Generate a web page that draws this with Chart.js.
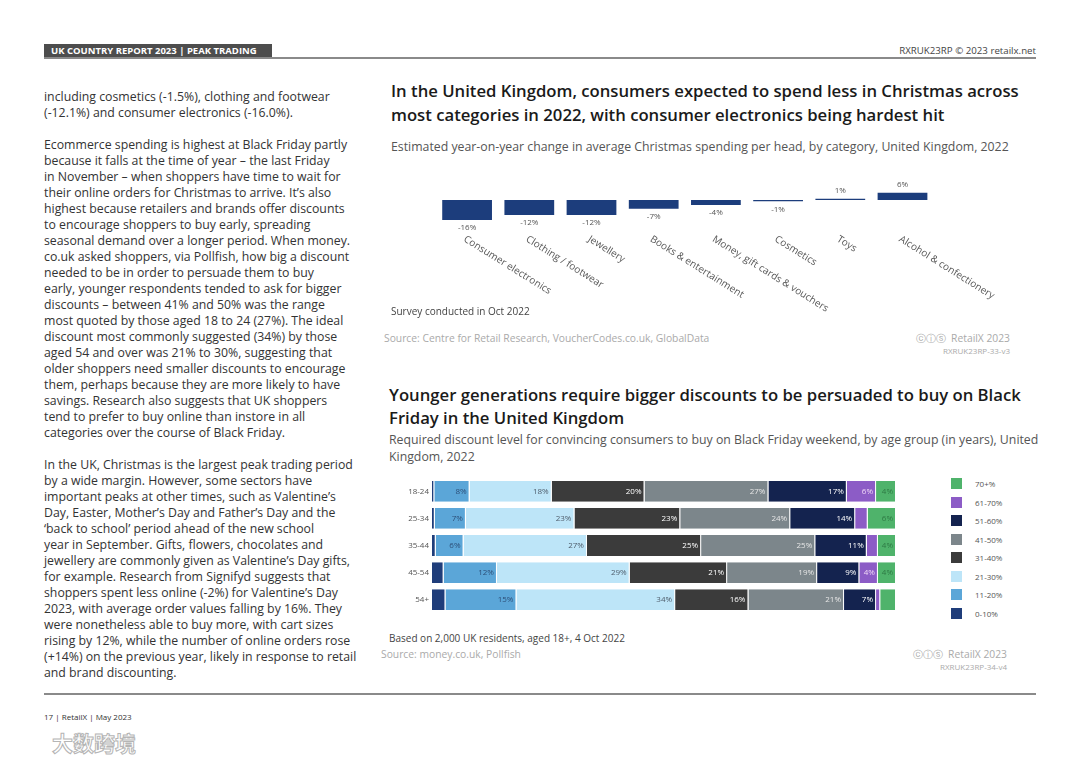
<!DOCTYPE html>
<html>
<head>
<meta charset="utf-8">
<script src="https://cdn.jsdelivr.net/npm/chart.js@4.4.0/dist/chart.umd.min.js"></script>
<style>
    body { margin: 0; width: 1080px; height: 763px; background: #fff; position: relative; overflow: hidden; font-family: "Open Sans", sans-serif; }
    .abs { position: absolute; white-space: nowrap; }
    .head-box { left: 44px; top: 44px; width: 228px; height: 14px; background: #4d4d4d; color: #fff; font-weight: 700; font-size: 9.5px; line-height: 14px; padding-left: 7px; box-sizing: border-box; }
    .rule { background: #8a8a8a; height: 1.5px; }
    .body-text { left: 44px; top: 89px; font-size: 12.3px; line-height: 16px; color: #333; }
    .body-text p { margin: 0 0 16px 0; }
    .title { font-size: 16.7px; font-weight: 600; color: #1a1a1a; }
    .sub { font-size: 12.3px; color: #555; }
    .note { font-size: 10px; color: #444; line-height: 14px; }
    .src { font-size: 10.3px; color: #aaa; line-height: 14px; }
    .code { font-size: 8px; color: #aaa; line-height: 12px; text-align: right; }
    .legend { left: 951px; top: 478px; font-size: 8px; color: #555; }
    .legend div { height: 18.5px; display: flex; align-items: flex-start; }
    .legend span.sw { width: 11px; height: 11px; margin-right: 13px; display: inline-block; }
    .legend span.tx { line-height: 11px; }
    canvas { position: absolute; }
</style>
</head>
<body>
<div class="abs head-box">UK COUNTRY REPORT 2023 | PEAK TRADING</div>
<div class="abs rule" style="left:44px;top:57px;width:992px;"></div>
<div class="abs" style="right:44px;top:44px;font-size:9.7px;line-height:14px;color:#444;">RXRUK23RP © 2023 retailx.net</div>

<div class="abs body-text">
<p>including cosmetics (-1.5%), clothing and footwear<br>(-12.1%) and consumer electronics (-16.0%).</p>
<p>Ecommerce spending is highest at Black Friday partly<br>because it falls at the time of year – the last Friday<br>in November – when shoppers have time to wait for<br>their online orders for Christmas to arrive. It’s also<br>highest because retailers and brands offer discounts<br>to encourage shoppers to buy early, spreading<br>seasonal demand over a longer period. When money.<br>co.uk asked shoppers, via Pollfish, how big a discount<br>needed to be in order to persuade them to buy<br>early, younger respondents tended to ask for bigger<br>discounts – between 41% and 50% was the range<br>most quoted by those aged 18 to 24 (27%). The ideal<br>discount most commonly suggested (34%) by those<br>aged 54 and over was 21% to 30%, suggesting that<br>older shoppers need smaller discounts to encourage<br>them, perhaps because they are more likely to have<br>savings. Research also suggests that UK shoppers<br>tend to prefer to buy online than instore in all<br>categories over the course of Black Friday.</p>
<p>In the UK, Christmas is the largest peak trading period<br>by a wide margin. However, some sectors have<br>important peaks at other times, such as Valentine’s<br>Day, Easter, Mother’s Day and Father’s Day and the<br>‘back to school’ period ahead of the new school<br>year in September. Gifts, flowers, chocolates and<br>jewellery are commonly given as Valentine’s Day gifts,<br>for example. Research from Signifyd suggests that<br>shoppers spent less online (-2%) for Valentine’s Day<br>2023, with average order values falling by 16%. They<br>were nonetheless able to buy more, with cart sizes<br>rising by 12%, while the number of online orders rose<br>(+14%) on the previous year, likely in response to retail<br>and brand discounting.</p>
</div>

<div class="abs title" style="left:391px;top:79px;line-height:24px;">In the United Kingdom, consumers expected to spend less in Christmas across<br>most categories in 2022, with consumer electronics being hardest hit</div>
<div class="abs sub" style="left:391px;top:139px;line-height:16px;">Estimated year-on-year change in average Christmas spending per head, by category, United Kingdom, 2022</div>
<canvas id="spendChart" width="660" height="150" style="left:380px;top:170px;"></canvas>
<div class="abs note" style="left:391px;top:304px;">Survey conducted in Oct 2022</div>
<div class="abs src" style="left:384px;top:331px;">Source: Centre for Retail Research, VoucherCodes.co.uk, GlobalData</div>
<div class="abs src" style="right:70px;top:331px;">ⓒⓘⓢ&nbsp; RetailX 2023</div>
<div class="abs code" style="right:70px;top:345px;">RXRUK23RP-33-v3</div>

<div class="abs title" style="left:389px;top:382.5px;line-height:23px;">Younger generations require bigger discounts to be persuaded to buy on Black<br>Friday in the United Kingdom</div>
<div class="abs sub" style="left:389px;top:430.5px;line-height:17px;">Required discount level for convincing consumers to buy on Black Friday weekend, by age group (in years), United<br>Kingdom, 2022</div>
<canvas id="discountChart" width="514" height="151" style="left:382px;top:470px;"></canvas>
<div class="abs legend" id="discountLegend"></div>
<div class="abs note" style="left:389px;top:631px;">Based on 2,000 UK residents, aged 18+, 4 Oct 2022</div>
<div class="abs src" style="left:381px;top:647px;">Source: money.co.uk, Pollfish</div>
<div class="abs src" style="right:73px;top:647px;">ⓒⓘⓢ&nbsp; RetailX 2023</div>
<div class="abs code" style="right:73px;top:661px;">RXRUK23RP-34-v4</div>

<div class="abs rule" style="left:44px;top:693px;width:992px;"></div>
<div class="abs" style="left:44px;top:711px;font-size:8px;line-height:12px;color:#333;">17 | RetailX | May 2023</div>
<div class="abs" style="left:52px;top:728px;font-size:21px;line-height:28px;font-weight:700;font-family:'Noto Sans CJK SC',sans-serif;color:#fff;-webkit-text-stroke:1px #b5b5b5;">大数跨境</div>

<script>
const spendCategories = ["Consumer electronics", "Clothing / footwear", "Jewellery", "Books & entertainment", "Money, gift cards & vouchers", "Cosmetics", "Toys", "Alcohol & confectionery"];
const spendChange = [-16, -12, -12, -7, -4, -1, 1, 6];

const ageGroups = ["18-24", "25-34", "35-44", "45-54", "54+"];
const discountBands = ["0-10%", "11-20%", "21-30%", "31-40%", "41-50%", "51-60%", "61-70%", "70+%"];
const share0to10 = [0.5, 0.6, 0.8, 2.5, 2.9];
const share11to20 = [7.6, 6.7, 6.0, 11.5, 15.3];
const share21to30 = [17.7, 23.4, 26.6, 28.6, 34.2];
const share31to40 = [20.0, 22.8, 24.6, 21.0, 15.8];
const share41to50 = [26.7, 23.7, 24.6, 19.4, 20.6];
const share51to60 = [16.9, 14.0, 11.1, 9.1, 6.9];
const share61to70 = [6.3, 2.7, 2.4, 4.0, 0.9];
const share70plus = [4.3, 6.1, 3.9, 3.9, 3.4];

const bandColors = ["#1f3d7a", "#5ba6d8", "#bde5f8", "#3b3b3b", "#7c868b", "#14234f", "#8c5cc6", "#4fb36b"];
const bandLabelColors = ["#ffffff", "#2d4f78", "#4f5d6b", "#ffffff", "#e6e6e6", "#ffffff", "#f0d8f6", "#2e7a44"];

(() => {
    const navy = "#1c3d7c";
    const tickGrey = "#555";
    const font = "'Open Sans', sans-serif";

    // value + rotated category labels for the spending chart
    const spendLabels = {
        id: "spendLabels",
        afterDatasetsDraw(chart) {
            const { ctx, chartArea } = chart;
            const meta = chart.getDatasetMeta(0);
            ctx.save();
            ctx.fillStyle = tickGrey;
            meta.data.forEach((bar, i) => {
                const value = spendChange[i];
                ctx.font = `8px ${font}`;
                ctx.textAlign = "center";
                ctx.textBaseline = "middle";
                ctx.fillText(`${value}%`, bar.x, value < 0 ? bar.y + 8 : bar.y - 8);

                ctx.save();
                ctx.translate(bar.x, chartArea.bottom + 14);
                ctx.rotate((32 * Math.PI) / 180);
                ctx.font = `10px ${font}`;
                ctx.textAlign = "left";
                ctx.textBaseline = "top";
                ctx.fillText(spendCategories[i], 0, 0);
                ctx.restore();
            });
            ctx.restore();
        },
    };

    new Chart(document.getElementById("spendChart"), {
        type: "bar",
        data: {
            labels: spendCategories,
            datasets: [
                {
                    data: spendChange,
                    backgroundColor: navy,
                    borderWidth: 0,
                    barPercentage: 0.8,
                    categoryPercentage: 1,
                },
            ],
        },
        options: {
            responsive: false,
            animation: false,
            layout: { padding: { left: 56, right: 106.4, top: 22.5, bottom: 100 } },
            scales: {
                x: { display: false },
                y: { display: false, min: -16, max: 6 },
            },
            plugins: { legend: { display: false }, tooltip: { enabled: false } },
        },
        plugins: [spendLabels],
    });

    // percentages at the end of each stacked segment
    const segmentLabels = {
        id: "segmentLabels",
        afterDatasetsDraw(chart) {
            const { ctx } = chart;
            ctx.save();
            ctx.font = `8px ${font}`;
            ctx.textAlign = "right";
            ctx.textBaseline = "middle";
            chart.data.datasets.forEach((ds, di) => {
                if (di === 0) {
                    return;
                }
                chart.getDatasetMeta(di).data.forEach((bar, i) => {
                    const rounded = Math.round(ds.data[i]);
                    if (rounded < 4) {
                        return;
                    }
                    ctx.fillStyle = bandLabelColors[di];
                    ctx.fillText(`${rounded}%`, bar.x - 3, bar.y);
                });
            });
            ctx.restore();
        },
    };

    const bandSeries = [share0to10, share11to20, share21to30, share31to40, share41to50, share51to60, share61to70, share70plus];

    new Chart(document.getElementById("discountChart"), {
        type: "bar",
        data: {
            labels: ageGroups,
            datasets: bandSeries.map((series, i) => ({
                label: discountBands[i],
                data: series,
                backgroundColor: bandColors[i],
                borderColor: "#ffffff",
                borderWidth: { top: 0, right: 1, bottom: 0, left: 0 },
                borderSkipped: false,
                barPercentage: 0.77,
                categoryPercentage: 1,
            })),
        },
        options: {
            indexAxis: "y",
            responsive: false,
            animation: false,
            layout: { padding: 0 },
            scales: {
                x: { display: false, stacked: true, min: 0, max: 100 },
                y: {
                    stacked: true,
                    grid: { display: false, drawTicks: false },
                    border: { display: false },
                    ticks: { color: tickGrey, font: { size: 8, family: font }, padding: 3 },
                    afterFit(scale) {
                        scale.width = 50;
                    },
                },
            },
            plugins: { legend: { display: false }, tooltip: { enabled: false } },
        },
        plugins: [segmentLabels],
    });

    const legendBox = document.getElementById("discountLegend");
    discountBands.slice().reverse().forEach((band, r) => {
        const idx = discountBands.length - 1 - r;
        const row = document.createElement("div");
        row.innerHTML = `<span class="sw" style="background:${bandColors[idx]}"></span><span class="tx">${band}</span>`;
        legendBox.appendChild(row);
    });
})();
</script>
</body>
</html>
